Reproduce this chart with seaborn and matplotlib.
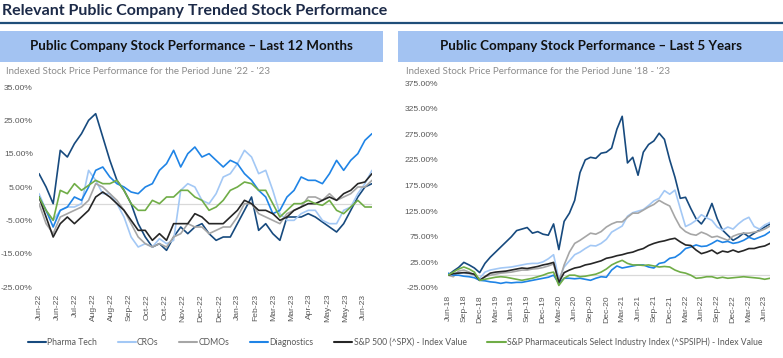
import numpy as np
import pandas as pd
import matplotlib.pyplot as plt
import seaborn as sns
from matplotlib.patches import Rectangle
from matplotlib.lines import Line2D

# Series names / colours
series = ["Pharma Tech", "CROs", "CDMOs", "Diagnostics",
          "S&P 500 (^SPX) - Index Value",
          "S&P Pharmaceuticals Select Industry Index (^SPSIPH) - Index Value"]
colors = ["#174a7e", "#a3c8f5", "#a6a6a6", "#1f84e6", "#262626", "#70ad47"]

# Last 12 months, % change (approx. weekly readings)
ltm_pharma = [9, 5, 0, 16, 14, 18, 21, 25, 27, 20, 13, 7, 4, 0, -6, -10, -13, -12, -14, -10, -7, -9, -7, -6,
              -9, -11, -10, -10, -6, -2, 2, -8, -6, -9, -11, -4, -4, -4, -3, -4, -5.5, -7, -8.5, -6, -2, 2, 5, 6]
ltm_cros = [3, -2, -5, -2, -1, -1, 0, 10, 7, 3, 3, 0, -4, -10, -13, -12, -13, -10.5, -12, -11, 4, 6, 5, 1,
            0, 3, 8, 9, 12, 16, 14, 9, 10, 4, -3, -5, -5, -3, -2, -2, -5, -6, -6, -2, -1, 3, 6, 10]
ltm_cdmos = [0, -6, -9, -4, -3, -2, -1, 1, 6, 5, 3, 1, -2, -6, -10, -12, -13, -12, -13, -10, -9, -6, -7, -7,
             -9, -8, -7, -7, -4, 0, 0, -3, -4, -5, -6, -3, -2, -1, 2, 2, 1, 3, 1, 2, 3, 5, 5, 7]
ltm_diag = [2, -2, -7, -2, -1, 2, 1, 5, 10, 11, 8, 6, 5, 3.5, 3, 5, 6, 10, 12, 16, 11, 15, 17, 14,
            15, 13, 11, 13, 12, 9, 7, 4, 2, -3, -2, 2, 4, 8, 7, 7, 6, 9, 13, 10, 13, 15, 19, 21]
ltm_spx = [2, -4, -10, -6, -4, -6, -4, -2, 2, 3.5, 2, 0, -2, -5, -8, -8, -11, -9, -11, -6, -6, -6, -3, -4,
           -6, -6, -6, -4, -2, 1, 0, -2, -2, -3, -5, -4, -2, -1, 0, 0, 1, 2, 1, 3, 4, 6, 6.5, 9]
ltm_sph = [2, -2, -5, 4, 3, 6, 4, 5.5, 7, 6, 6, 7, 4, 0, -2, -2, 1, 0, 2, 2, 4, 4, 2, 1,
           -2, -1, 1, 4, 5, 6.5, 6, 4, 4, 0, -4, -2, 0, 0, 1, 0, -0.5, 1, -2, -3, -1, 1, -1, -1]
ltm_ticklabels = ["Jun-22", "Jun-22", "Jul-22", "Aug-22", "Aug-22", "Sep-22", "Oct-22", "Oct-22", "Nov-22",
                  "Dec-22", "Dec-22", "Jan-23", "Feb-23", "Mar-23", "Mar-23", "Apr-23", "May-23", "May-23",
                  "Jun-23"]

# Last 5 years, % change (approx. monthly readings, Jun-18 .. Jul-23)
y5_pharma = [0, 8, 15, 25, 20, 14, 5, 23, 35, 45, 55, 65, 75, 87, 90, 93, 82, 85, 80, 78, 100, 50, 105, 121,
             146, 200, 225, 230, 228, 238, 240, 248, 285, 310, 219, 230, 195, 240, 255, 262, 277, 265, 225,
             191, 150, 152, 130, 110, 100, 115, 140, 110, 88, 78, 68, 74, 82, 75, 82, 88, 94, 100]
y5_cros = [0, 3, 5, 4, 3, 0, -6, 6, 10, 12, 14, 15, 16, 18, 20, 22, 23, 23, 26, 32, 40, -8, 16, 28,
           40, 45, 52, 58, 57, 62, 70, 84, 90, 96, 115, 122, 125, 128, 136, 145, 150, 165, 158,
           166, 130, 95, 100, 107, 118, 112, 107, 94, 88, 94, 90, 100, 108, 113, 95, 90, 98, 103]
y5_cdmos = [0, -3, 8, 10, 6, 0, -10, -3, 0, 2, 4, 5, 6, 8, 10, 10, 12, 13, 15, 18, 22, -14, 20, 45,
            62, 68, 75, 82, 80, 85, 94, 100, 104, 104, 113, 121, 121, 127, 133, 138, 146, 140, 135,
            113, 94, 85, 80, 78, 84, 80, 74, 76, 72, 68, 76, 80, 82, 82, 84, 86, 90, 96]
y5_diag = [4, 0, 0, -2, -3, -5, -10, -11, -13, -14, -16, -14, -15, -14, -14, -12, -10, -8, -6, -4, 0, -16, -6, -6,
           -7, -6, -8, -10, -6, -3, -4, 10, 18, 14, 16, 18, 20, 20, 16, 14, 23, 25, 33,
           35, 42, 52, 55, 59, 56, 57, 62, 68, 64, 66, 62, 64, 68, 74, 70, 74, 78, 85]
y5_spx = [0, 3, 4, 5, 4, 2, -10, -3, 4, 6, 7, 8, 10, 12, 14, 13, 15, 17, 20, 22, 25, -14, 5, 10,
          14, 16, 20, 22, 25, 28, 33, 35, 38, 40, 43, 45, 49, 52, 58, 62, 65, 67, 70,
          72, 65, 59, 58, 49, 42, 45, 49, 42, 47, 45, 49, 45, 48, 52, 52, 55, 57, 62]
y5_sph = [0, 6, 12, 16, 12, 6, -10, -8, -6, -4, -3, -4, -6, -8, -10, -8, -6, -3, 0, 4, 6, -20, -6, 0,
          0, -3, -2, 0, 2, 6, 12, 20, 25, 29, 23, 20, 20, 19, 20, 18, 16, 17, 16,
          10, 6, 4, 0, -6, -5, -3, -3, -6, -4, -6, -5, -4, -3, -4, -5, -6, -8, -6]
y5_ticklabels = ["Jun-18", "Sep-18", "Dec-18", "Mar-19", "Jun-19", "Sep-19", "Dec-19", "Mar-20", "Jun-20",
                 "Sep-20", "Dec-20", "Mar-21", "Jun-21", "Sep-21", "Dec-21", "Mar-22", "Jun-22", "Sep-22",
                 "Dec-22", "Mar-23", "Jun-23"]


def to_long(cols):
    frames = []
    for name, vals in zip(series, cols):
        frames.append(pd.DataFrame({"t": np.arange(len(vals)), "value": vals, "series": name}))
    return pd.concat(frames, ignore_index=True)


df_ltm = to_long([ltm_pharma, ltm_cros, ltm_cdmos, ltm_diag, ltm_spx, ltm_sph])
df_5y = to_long([y5_pharma, y5_cros, y5_cdmos, y5_diag, y5_spx, y5_sph])

sns.set_style("white")
plt.rcParams["font.family"] = ["Lato", "DejaVu Sans"]

W, H = 783, 358
fig = plt.figure(figsize=(W / 100, H / 100), dpi=100)


def fx(px):
    return px / W


def fy(py):
    return 1 - py / H


# Title + rule
fig.text(fx(2), fy(11), "Relevant Public Company Trended Stock Performance", fontsize=11.5,
         fontweight="bold", color="#1c2a48", va="center", ha="left")
fig.add_artist(Line2D([0, 1], [fy(23), fy(23)], color="#1f4e79", lw=1.6, transform=fig.transFigure))

# Header boxes
box_col = "#a3c3f2"
fig.add_artist(Rectangle((fx(0), fy(62)), fx(383), 31 / H, color=box_col, transform=fig.transFigure, lw=0))
fig.add_artist(Rectangle((fx(398), fy(62)), fx(385), 31 / H, color=box_col, transform=fig.transFigure, lw=0))
fig.text(fx(191), fy(46.5), "Public Company Stock Performance – Last 12 Months", fontsize=9.6,
         fontweight="bold", color="#111111", ha="center", va="center")
fig.text(fx(591), fy(46.5), "Public Company Stock Performance – Last 5 Years", fontsize=9.6,
         fontweight="bold", color="#111111", ha="center", va="center")
fig.text(fx(6), fy(71), "Indexed Stock Price Performance for the Period June '22 - '23", fontsize=7,
         color="#8c8c8c", ha="left", va="center")
fig.text(fx(406), fy(71), "Indexed Stock Price Performance for the Period June '18 - '23", fontsize=7,
         color="#8c8c8c", ha="left", va="center")

ax1 = fig.add_axes([fx(39), fy(287), fx(333), 200 / H])
ax2 = fig.add_axes([fx(448), fy(288), fx(322), 205 / H])

for ax, df in [(ax1, df_ltm), (ax2, df_5y)]:
    ax.axhline(0, color="#d9d9d9", lw=0.9, zorder=0)
    sns.lineplot(data=df, x="t", y="value", hue="series", hue_order=series, palette=colors,
                 lw=1.2, legend=False, ax=ax)
    ax.set_xlabel("")
    ax.set_ylabel("")
    for s in ax.spines.values():
        s.set_visible(False)
    ax.tick_params(axis="both", length=0, labelsize=6.1, labelcolor="#595959")
    ax.tick_params(axis="x", pad=5)
    ax.set_xlim(0, df["t"].max())
ax1.tick_params(axis="y", pad=4.5)
ax2.tick_params(axis="y", pad=7)

ax1.set_ylim(-25, 35)
ax1.set_yticks(np.arange(-25, 36, 10))
ax1.set_yticklabels([f"{v:.2f}%" for v in np.arange(-25, 36, 10)], fontfamily="Liberation Sans")
ax1.set_xticks(np.linspace(0, 45.8, len(ltm_ticklabels)))
ax1.set_xticklabels(ltm_ticklabels, rotation=90, fontfamily="Liberation Sans")

ax2.set_ylim(-25, 375)
ax2.set_yticks(np.arange(-25, 376, 50))
ax2.set_yticklabels([f"{v:.2f}%" for v in np.arange(-25, 376, 50)], fontfamily="Liberation Sans")
ax2.set_xticks(np.arange(0, 61, 3))
ax2.set_xticklabels(y5_ticklabels, rotation=90, fontfamily="Liberation Sans")

handles = [Line2D([], [], color=c, lw=1.5) for c in colors]
fig.legend(handles, series, loc="center", bbox_to_anchor=(fx(395), fy(342)), ncol=6, frameon=False,
           fontsize=6.2, handlelength=2.1, handletextpad=0.15, columnspacing=2.4, labelcolor="#595959")

fig.savefig("out.png", dpi=100)
